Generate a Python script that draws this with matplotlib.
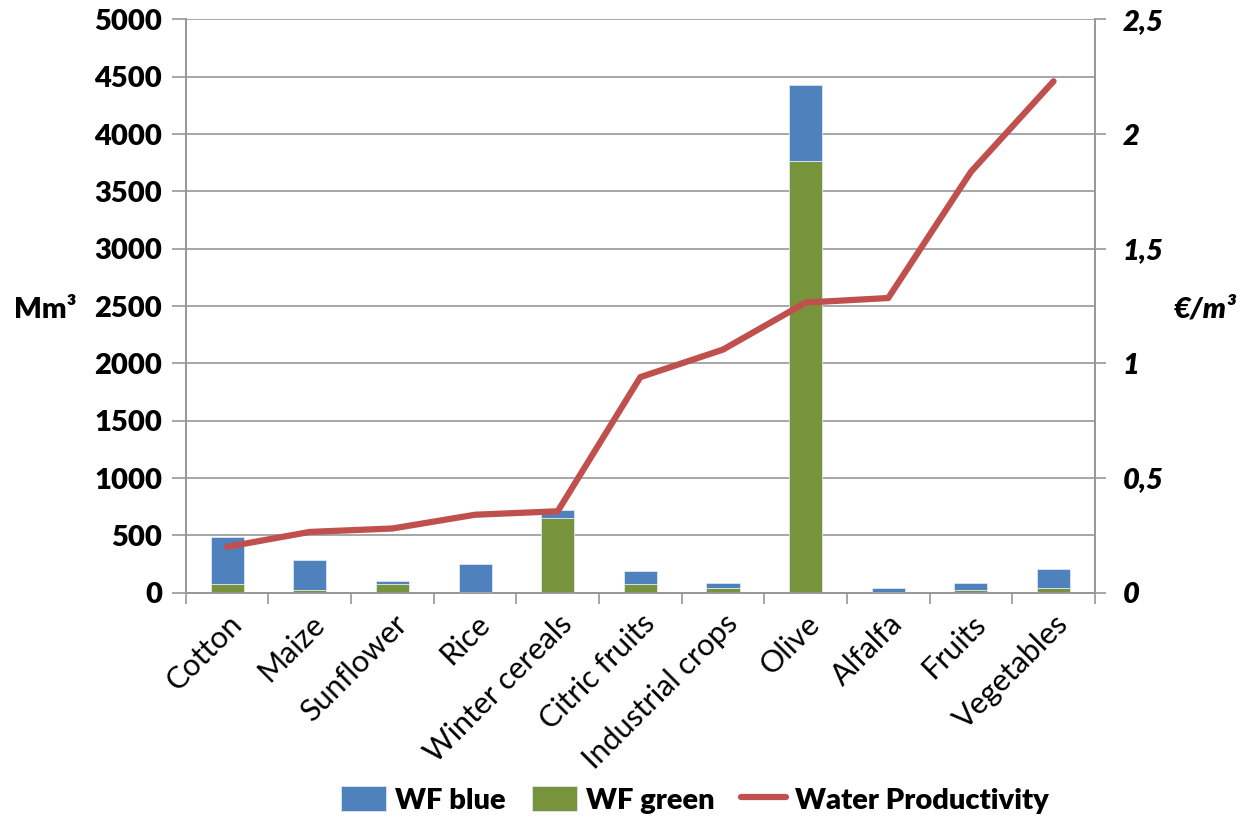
import matplotlib.pyplot as plt
import numpy as np
from matplotlib.ticker import FuncFormatter, FixedLocator

crops = ['Cotton', 'Maize', 'Sunflower', 'Rice', 'Winter cereals', 'Citric fruits',
         'Industrial crops', 'Olive', 'Alfalfa', 'Fruits', 'Vegetables']
wf_green = [73, 23, 73, 5, 649, 73, 38, 3767, 8, 23, 38]
wf_blue = [416, 262, 32, 248, 70, 116, 49, 663, 33, 64, 166]
water_prod = [0.20, 0.265, 0.28, 0.34, 0.355, 0.94, 1.06, 1.265, 1.285, 1.835, 2.23]

BLUE = '#4F81BD'
GREEN = '#77933C'
RED = '#C0504D'
GRID = '#979797'
FS = 21

plt.rcParams['font.family'] = ['Lato', 'DejaVu Sans']

fig = plt.figure(figsize=(12.47, 8.3), dpi=100)
ax = fig.add_axes([0.149, 0.2859, 0.729, 0.6908])
ax2 = ax.twinx()

x = np.arange(len(crops))
ax.bar(x, wf_green, width=0.4, color=GREEN, edgecolor='#dce6f2', linewidth=0.6,
       label='WF green', zorder=3)
ax.bar(x, wf_blue, width=0.4, bottom=wf_green, color=BLUE, edgecolor='#dce6f2',
       linewidth=0.6, label='WF blue', zorder=3)
ax2.plot(x, water_prod, color=RED, linewidth=4.5, solid_capstyle='round',
         label='Water Productivity', zorder=4)

ax.set_xlim(-0.5, len(crops) - 0.5)
ax.set_ylim(0, 5000)
ax2.set_ylim(0, 2.5)
ax.set_yticks(np.arange(0, 5001, 500))
ax2.set_yticks(np.arange(0, 2.51, 0.5))
ax.yaxis.grid(True, color=GRID, linewidth=1.2, zorder=0)
ax.set_axisbelow(True)

# category labels at centres, tick marks at the boundaries
ax.set_xticks(x)
ax.set_xticklabels(crops, rotation=45, ha='right', rotation_mode='anchor', fontsize=FS + 1)
ax.xaxis.set_minor_locator(FixedLocator(np.arange(-0.5, len(crops), 1.0)))
ax.tick_params(axis='x', which='major', length=0, pad=12)
ax.tick_params(axis='x', which='minor', length=8, width=1.2, color=GRID)
ax.tick_params(axis='y', length=10, width=1.2, color=GRID, labelsize=FS, pad=7)
ax2.tick_params(axis='y', length=8, width=1.2, color=GRID, labelsize=FS, pad=12)

for lbl in ax.get_yticklabels():
    lbl.set_fontweight('heavy')
ax2.yaxis.set_major_formatter(FuncFormatter(lambda v, p: f'{v:g}'.replace('.', ',')))
for lbl in ax2.get_yticklabels():
    lbl.set_fontweight('heavy')
    lbl.set_fontstyle('italic')

for a in (ax, ax2):
    for side in ('left', 'right', 'bottom'):
        a.spines[side].set_color(GRID)
        a.spines[side].set_linewidth(1.2)
    a.spines['top'].set_visible(False)

fig.text(0.011, 0.627, 'Mm³', fontsize=FS, fontweight='heavy', va='center', ha='left')
fig.text(0.941, 0.627, '€/m³', fontsize=FS, fontweight='heavy', fontstyle='italic',
         va='center', ha='left')

handles = [ax.containers[1], ax.containers[0], ax2.lines[0]]
labels = ['WF blue', 'WF green', 'Water Productivity']
fig.legend(handles, labels, loc='lower center', bbox_to_anchor=(0.557, -0.012), ncol=3,
           frameon=False, prop={'weight': 'heavy', 'size': FS}, handlelength=1.55,
           handleheight=0.95, handletextpad=0.3, columnspacing=0.9)

fig.savefig('out.png', dpi=100)
